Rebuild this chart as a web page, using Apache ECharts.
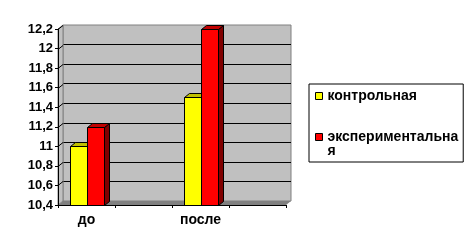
<!DOCTYPE html>
<html><head><meta charset="utf-8">
<script src="https://cdn.jsdelivr.net/npm/echarts@6/dist/echarts.min.js"></script>
<style>html,body{margin:0;padding:0;background:#fff}#c{width:474px;height:247px}</style>
</head><body><div id="c"></div>
<script>
const categories = ['до', '', 'после', ''];
const controlValues = [11.0, null, 11.5, null];
const experimentalValues = [11.2, null, 12.2, null];
const yTicks = [10.4, 10.6, 10.8, 11.0, 11.2, 11.4, 11.6, 11.8, 12.0, 12.2];
const yTickLabels = ['10,4', '10,6', '10,8', '11', '11,2', '11,4', '11,6', '11,8', '12', '12,2'];
const seriesNames = ['контрольная', 'экспериментальная'];

const FONT = 'Arial, "Liberation Sans", sans-serif';
const DX = 5, DY = 4;
const YMIN = yTicks[0], YMAX = yTicks[yTicks.length - 1];

function fmtY(v) {
  let best = 0, bd = Infinity;
  yTicks.forEach((t, i) => { const d = Math.abs(t - v); if (d < bd) { bd = d; best = i; } });
  return yTickLabels[best];
}

function barRender(side, colors) {
  return function (params, api) {
    const cat = api.value(0), v = api.value(1);
    if (v == null || isNaN(v)) return;
    const top = api.coord([cat, v]);
    const base = api.coord([cat, YMIN]);
    const band = api.size([1, 0])[0];
    const bw = Math.round(band * 0.3);
    const cx = Math.round(top[0]);
    const x0 = (side === 0 ? cx - bw : cx) + 0.5;
    const x1 = x0 + bw;
    const yt = Math.round(top[1]) + 0.5;
    const yb = Math.round(base[1]) + 0.5;
    const st = { stroke: '#000', lineWidth: 1 };
    return {
      type: 'group',
      children: [
        { type: 'polygon', shape: { points: [[x1, yt], [x1 + DX, yt - DY], [x1 + DX, yb - DY], [x1, yb]] },
          style: Object.assign({ fill: colors[2] }, st) },
        { type: 'polygon', shape: { points: [[x0, yt], [x0 + DX, yt - DY], [x1 + DX, yt - DY], [x1, yt]] },
          style: Object.assign({ fill: colors[1] }, st) },
        { type: 'rect', shape: { x: x0, y: yt, width: bw, height: yb - yt },
          style: Object.assign({ fill: colors[0] }, st) }
      ]
    };
  };
}

function decorRender(params, api) {
  const cs = params.coordSys;
  const x = cs.x, y = cs.y, w = cs.width, h = cs.height;
  const children = [
    { type: 'polygon', shape: { points: [[x, y + h], [x + w, y + h], [x + w + DX, y + h - DY], [x + DX, y + h - DY]] },
      style: { fill: '#808080' } },
    { type: 'polygon', shape: { points: [[x, y], [x + DX, y - DY], [x + DX, y + h - DY], [x, y + h]] },
      style: { fill: '#c0c0c0', stroke: '#808080', lineWidth: 1 } }
  ];
  yTicks.forEach(t => {
    if (t === YMIN) return;
    const p = api.coord([0, t]);
    const yy = Math.round(p[1]) + 0.5;
    children.push({ type: 'line', shape: { x1: x, y1: yy, x2: x + DX, y2: yy - DY },
      style: { stroke: '#000', lineWidth: 1 } });
  });
  return { type: 'group', children };
}

const chart = echarts.init(document.getElementById('c'), null, { renderer: 'canvas' });
chart.setOption({
  backgroundColor: '#fff',
  animation: false,
  textStyle: { fontFamily: FONT },
  grid: [
    { left: 58, top: 29, width: 228, height: 176, containLabel: false },
    { left: 63, top: 25, width: 228, height: 176, show: true, backgroundColor: '#c0c0c0', borderColor: '#808080', borderWidth: 1, z: 0 }
  ],
  xAxis: [
    { type: 'category', gridIndex: 0, data: categories, boundaryGap: true, z: 10,
      axisLine: { lineStyle: { color: '#000', width: 1 } },
      axisTick: { show: true, length: 3, lineStyle: { color: '#000' }, interval: 0 },
      axisLabel: { interval: 0, margin: 8, color: '#000', fontWeight: 'bold', fontSize: 14, fontFamily: FONT },
      splitLine: { show: false } },
    { type: 'category', gridIndex: 1, data: categories, show: false }
  ],
  yAxis: [
    { type: 'value', gridIndex: 0, min: YMIN, max: YMAX, interval: 0.2, z: 10,
      axisLine: { show: true, lineStyle: { color: '#000', width: 1 } },
      axisTick: { show: true, length: 3, lineStyle: { color: '#000' } },
      axisLabel: { margin: 5, color: '#000', fontWeight: 'bold', fontSize: 13, fontFamily: FONT, formatter: fmtY },
      splitLine: { show: false } },
    { type: 'value', gridIndex: 1, min: YMIN, max: YMAX, interval: 0.2,
      axisLine: { show: false }, axisTick: { show: false }, axisLabel: { show: false },
      splitLine: { show: true, showMinLine: false, showMaxLine: false, lineStyle: { color: '#000', width: 1 } } }
  ],
  legend: {
    data: [seriesNames[0], seriesNames[1]],
    orient: 'vertical', left: 309, top: 84,
    padding: [5, 5, 4, 6], itemGap: 13,
    itemWidth: 7, itemHeight: 7, icon: 'rect',
    itemStyle: { borderColor: '#000', borderWidth: 1 },
    borderColor: '#000', borderWidth: 1, borderRadius: 0,
    textStyle: { color: '#000', fontWeight: 'bold', fontSize: 14, fontFamily: FONT, lineHeight: 14 },
    formatter: function (n) { return n === seriesNames[1] ? ' \nэкспериментальна\nя' : n; }
  },
  series: [
    { type: 'custom', name: '_decor', xAxisIndex: 0, yAxisIndex: 0, z: 1, silent: true,
      data: [[0, YMIN]], encode: { x: 0, y: 1 }, renderItem: decorRender },
    { type: 'custom', name: seriesNames[0], xAxisIndex: 0, yAxisIndex: 0, z: 2,
      itemStyle: { color: '#ffff00' },
      data: controlValues.map((v, i) => [i, v]), encode: { x: 0, y: 1 },
      renderItem: barRender(0, ['#ffff00', '#c0c000', '#808000']) },
    { type: 'custom', name: seriesNames[1], xAxisIndex: 0, yAxisIndex: 0, z: 2,
      itemStyle: { color: '#ff0000' },
      data: experimentalValues.map((v, i) => [i, v]), encode: { x: 0, y: 1 },
      renderItem: barRender(1, ['#ff0000', '#c00000', '#800000']) }
  ]
});
</script></body></html>
